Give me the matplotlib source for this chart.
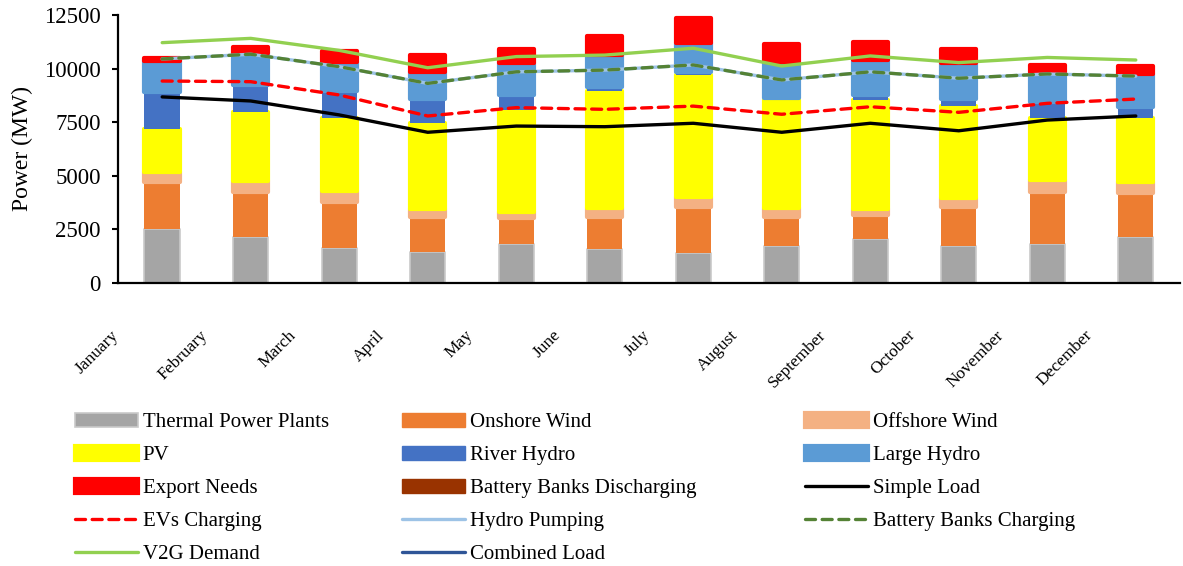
import matplotlib.pyplot as plt
import matplotlib.transforms as mtransforms
from matplotlib.lines import Line2D
from matplotlib.patches import Patch
import numpy as np

plt.rcParams['font.family'] = ['Liberation Serif', 'DejaVu Serif']

months = ["January", "February", "March", "April", "May", "June", "July",
          "August", "September", "October", "November", "December"]

# stacked generation (MW)
thermal = [2500, 2130, 1650, 1430, 1820, 1570, 1385, 1725, 2050, 1740, 1805, 2130]
onshore = [2220, 2130, 2145, 1630, 1195, 1525, 2175, 1370, 1120, 1820, 2455, 2085]
offshore = [470, 500, 500, 375, 310, 390, 465, 390, 265, 420, 545, 510]
pv = [1980, 3230, 3390, 4010, 4740, 5485, 5675, 5050, 5100, 4275, 2875, 2955]
river_hydro = [1750, 1245, 1290, 1120, 700, 185, 155, 110, 235, 325, 775, 545]
large_hydro = [1430, 1480, 1350, 1290, 1480, 1480, 1325, 1680, 1630, 1665, 1400, 1525]
export = [150, 270, 500, 800, 680, 880, 1200, 800, 830, 650, 300, 360]
battery_discharging = [0] * 12

# demand curves (MW)
simple_load = [8680, 8490, 7840, 7030, 7320, 7290, 7450, 7030, 7450, 7100, 7600, 7790]
ev_charging = [9420, 9390, 8770, 7790, 8180, 8100, 8250, 7870, 8220, 7960, 8380, 8580]
hydro_pumping = [10450, 10670, 10090, 9310, 9850, 9930, 10170, 9470, 9850, 9550, 9750, 9650]
battery_charging = [10450, 10670, 10090, 9310, 9850, 9930, 10170, 9470, 9850, 9550, 9750, 9650]
v2g_demand = [11210, 11410, 10850, 10040, 10560, 10630, 10950, 10120, 10590, 10280, 10520, 10400]
combined_load = []

fig = plt.figure(figsize=(11.83, 5.66), dpi=100)
ax = fig.add_axes([0.0997, 0.5, 0.8978, 0.4735])

x = np.arange(len(months))
w = 0.4

stack = [
    (thermal, "Thermal Power Plants", "#A5A5A5", "#C9C9C9", 1.2),
    (onshore, "Onshore Wind", "#ED7D31", "#ED7D31", 0),
    (offshore, "Offshore Wind", "#F4B183", "#F4B183", 3.0),
    (pv, "PV", "#FFFF00", "#FFFF00", 3.0),
    (river_hydro, "River Hydro", "#4472C4", "#4472C4", 0),
    (large_hydro, "Large Hydro", "#5B9BD5", "#5B9BD5", 3.0),
    (export, "Export Needs", "#FF0000", "#FF0000", 3.0),
    (battery_discharging, "Battery Banks Discharging", "#993300", "#993300", 0),
]

bottom = np.zeros(len(months))
handles = {}
for vals, name, fc, ec, lw in stack:
    ax.bar(x, vals, w, bottom=bottom, color=fc, edgecolor=ec, linewidth=lw,
           joinstyle="round")
    bottom += np.array(vals)
    handles[name] = Patch(facecolor=fc, edgecolor=ec, linewidth=max(lw, 1.0),
                          joinstyle="round")

lines = [
    (simple_load, "Simple Load", dict(color="black", lw=2.4)),
    (ev_charging, "EVs Charging", dict(color="#FF0000", lw=2.4, ls=(0, (3, 2)))),
    (hydro_pumping, "Hydro Pumping", dict(color="#9DC3E6", lw=2.4)),
    (battery_charging, "Battery Banks Charging", dict(color="#548235", lw=2.4, ls=(0, (3, 2)))),
    (v2g_demand, "V2G Demand", dict(color="#92D050", lw=2.4)),
    (combined_load, "Combined Load", dict(color="#2F5597", lw=2.4)),
]
for vals, name, kw in lines:
    ax.plot(x[:len(vals)], vals, solid_capstyle="round", dash_capstyle="round", **kw)
    handles[name] = Line2D([], [], solid_capstyle="round", dash_capstyle="round", **kw)

ax.set_xlim(-0.5, len(months) - 0.5)
ax.set_ylim(0, 12500)
ax.set_yticks(np.arange(0, 12501, 2500))
ax.set_ylabel("Power (MW)", fontsize=17, labelpad=8)
ax.tick_params(axis="y", labelsize=16.5, direction="out", length=4, width=1.5, pad=8.5)
ax.tick_params(axis="x", length=0, pad=0)
ax.set_xticks(x)
ax.set_xticklabels(months, fontsize=12.5, rotation=45, ha="right", va="center",
                   rotation_mode="anchor")
shift = mtransforms.ScaledTranslation(-0.46, -0.50, fig.dpi_scale_trans)
for lab in ax.get_xticklabels():
    lab.set_transform(lab.get_transform() + shift)

for s in ["top", "right"]:
    ax.spines[s].set_visible(False)
for s in ["left", "bottom"]:
    ax.spines[s].set_linewidth(1.6)

columns = [
    ["Thermal Power Plants", "PV", "Export Needs", "EVs Charging", "V2G Demand"],
    ["Onshore Wind", "River Hydro", "Battery Banks Discharging", "Hydro Pumping", "Combined Load"],
    ["Offshore Wind", "Large Hydro", "Simple Load", "Battery Banks Charging"],
]
col_left = [75, 402, 805]
for names, left in zip(columns, col_left):
    fig.legend([handles[n] for n in names], names, loc="upper left",
               bbox_to_anchor=(left / 1183, 1 - 413 / 566), frameon=False,
               fontsize=15, borderpad=0, borderaxespad=0, handlelength=3.0,
               handleheight=0.65, handletextpad=0.25, labelspacing=0.66)

fig.savefig("out.png", dpi=100)
